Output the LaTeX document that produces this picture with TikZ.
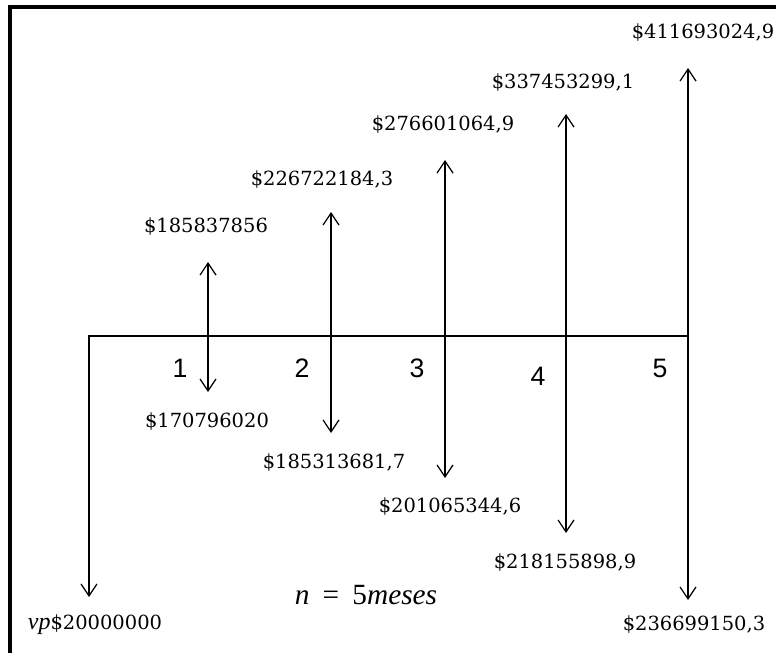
\documentclass[tikz,border=0pt]{standalone}
\usepackage{fontspec}
\setmainfont{DejaVu Serif}
\newfontfamily\numfont{Liberation Sans}
\newfontfamily\varfont{Liberation Serif}
\usetikzlibrary{arrows.meta,positioning}

\begin{document}
\begin{tikzpicture}[
  x=0.75pt,y=-0.75pt,
  every node/.style={inner sep=0pt},
  money/.style={font=\fontsize{14.6}{16}\selectfont},
  period/.style={font=\numfont\fontsize{20}{22}\selectfont},
  note/.style={font=\varfont\fontsize{22}{24}\selectfont},
  frame/.style={line width=2.4pt},
  flow/.style={-{Straight Barb[length=9pt,width=12pt]},line width=0.9pt},
  cash/.style={{Straight Barb[length=9pt,width=12pt]}-{Straight Barb[length=9pt,width=12pt]},line width=0.9pt}
]
\useasboundingbox (0,0) rectangle (776,653);
\draw[frame] (10,660) -- (10,7) -- (780,7);

% time line
\coordinate (t0) at (89,336);
\coordinate (t5) at (688,336);
\coordinate (vp) at (89,597);
\draw[flow] (t5) -- (t0) -- (vp);

% cash flow tips
\coordinate (u1) at (208,262); \coordinate (d1) at (208,392);
\coordinate (u2) at (331,212); \coordinate (d2) at (331,433);
\coordinate (u3) at (445,160); \coordinate (d3) at (445,478);
\coordinate (u4) at (566,114); \coordinate (d4) at (566,533);
\coordinate (u5) at (688,68);  \coordinate (d5) at (688,600);

\draw[cash] (d1) -- (u1);
\draw[cash] (d2) -- (u2);
\draw[cash] (d3) -- (u3);
\draw[cash] (d4) -- (u4);
\draw[cash] (d5) -- (u5);

% periods
\node[period] (p1) at (180,368) {1};
\node[period] (p2) at (302,368) {2};
\node[period] (p3) at (417,368) {3};
\node[period] (p4) at (538,376) {4};
\node[period] (p5) at (660,368) {5};

% incomes
\node[money] (in1) at (206,227) {\$185837856};
\node[money] (in2) at (322,180) {\$226722184,3};
\node[money] (in3) at (443,125) {\$276601064,9};
\node[money] (in4) at (563,83)  {\$337453299,1};
\node[money] (in5) at (703,33)  {\$411693024,9};

% costs
\node[money] (out1) at (207,422) {\$170796020};
\node[money] (out2) at (334,463) {\$185313681,7};
\node[money] (out3) at (450,507) {\$201065344,6};
\node[money] (out4) at (565,563) {\$218155898,9};
\node[money] (out5) at (694,625) {\$236699150,3};

\node[money] (vpl) at (95,625) {{\varfont\itshape\fontsize{18}{19}\selectfont vp}\$20000000};
\node[note] (n) at (366,595) {\textit{n}\hspace{0.45em}=\hspace{0.45em}5\textit{meses}};
\end{tikzpicture}
\end{document}
